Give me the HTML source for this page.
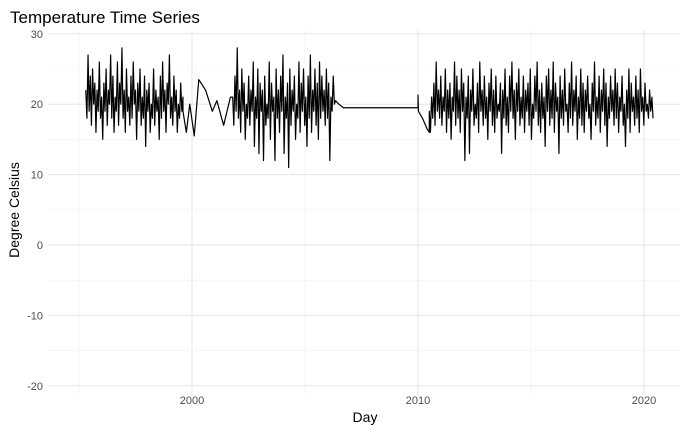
<!DOCTYPE html>
<html><head><meta charset="utf-8"><style>
html,body{margin:0;padding:0;background:#fff;}
svg{display:block;font-family:"Liberation Sans",sans-serif;}
</style></head><body>
<svg id="chart" width="689" height="432">
<text x="10" y="23" font-size="17" fill="#000">Temperature Time Series</text>
<g id="grid"></g>
<g id="axes"></g>
<g id="series"></g>
<text x="365" y="422" font-size="14" text-anchor="middle" fill="#000">Day</text>
<text transform="translate(19,210) rotate(-90)" font-size="14" text-anchor="middle" fill="#000">Degree Celsius</text>
</svg>
<script>
const yTicks=[30,20,10,0,-10,-20];
const yMinor=[25,15,5,-5,-15];
const xTicks=[2000,2010,2020];
const xMinor=[1995,2005,2015];
const segA=[22,18,27,19,24,17,25,20,23,16,22,19,26,18,21,15,23,19,25,17,22,20,27,18,24,16,21,19,26,17,23,20,28,18,22,16,25,19,21,17,24,18,26,20,22,15,23,19,25,17,21,18,24,14,22,19,23,16,20,18,25,17,22,19,21,15,24,18,26,19,22,16,23,20,27,18,21,17,24,19,22,16,20,18,23,19,21];
const segAStart=1995.3, segAEnd=1999.6;
const segBDates=[1999.6,1999.75,1999.9,2000.1,2000.3,2000.6,2000.9,2001.1,2001.4,2001.7];
const segBVals=[19,16,20,15.5,23.5,22,19,20.5,17,21];
const segC=[21,17,24,19,28,18,22,16,25,19,23,15,20,18,24,17,22,19,26,14,21,18,25,13,23,19,22,12,24,17,20,18,26,15,23,19,21,12,25,18,22,16,24,19,27,13,21,18,23,11,25,17,22,19,24,15,20,18,26,16,23,19,25,17,21,14,24,18,27,16,22,19,25,17,23,15,26,18,24,19,22,17,25,18,23,12,21,19,24,20];
const segCStart=2001.8, segCEnd=2006.3;
const segDDates=[2006.35,2006.5,2006.7,2010.0,2010.0,2010.02,2010.2,2010.4,2010.5];
const segDVals=[20.5,20,19.5,19.5,21.3,19,18,16.5,16];
const segE=[19,16,21,18,23,17,26,19,22,18,24,17,21,19,25,16,22,18,23,15,21,19,26,17,24,18,22,16,25,19,23,12,21,18,24,13,22,19,25,17,20,18,23,16,26,19,22,17,24,18,21,15,23,19,25,17,22,16,24,18,20,19,23,13,22,18,25,17,21,16,24,19,26,18,22,15,23,19,25,17,21,18,24,16,22,19,23,17,25,15,20,18,24,19,26,17,22,16,23,18,21,14,24,19,25,17,22,18,26,16,23,19,21,13,24,18,22,17,25,19,20,16,23,18,26,17,22,19,24,15,21,18,25,17,23,16,22,19,24,18,20,15,23,19,26,17,21,18,24,16,22,19,25,17,23,14,21,18,24,19,22,17,25,18,23,16,21,19,24,17,20,14,22,18,25,16,23,19,21,17,24,18,22,16,25,19,21,17,23,19,20,18,22,19,21,18];
const segEStart=2010.5, segEEnd=2020.4;

const NS="http://www.w3.org/2000/svg";
const L=48,R=680,T=30,B=396;
const X=y=>192+(y-2000)*22.6;
const Y=v=>245-v*7.04;
function mk(tag,attrs,parent){const e=document.createElementNS(NS,tag);for(const k in attrs)e.setAttribute(k,attrs[k]);parent.appendChild(e);return e;}
const grid=document.getElementById('grid'),axes=document.getElementById('axes'),series=document.getElementById('series');
yMinor.forEach(v=>{const l=mk('line',{x1:L,x2:R,y1:Y(v),y2:Y(v),stroke:'#f1f1f1','stroke-width':0.6},grid);

});
xMinor.forEach(v=>{const l=mk('line',{x1:X(v),x2:X(v),y1:T,y2:B,stroke:'#f1f1f1','stroke-width':0.6},grid);

});
yTicks.forEach(v=>{const l=mk('line',{x1:L,x2:R,y1:Y(v),y2:Y(v),stroke:'#e6e6e6','stroke-width':1},grid);


const t=mk('text',{x:43,y:Y(v)+4,'font-size':11,'text-anchor':'end',fill:'#4d4d4d'},axes);t.textContent=v;

});
xTicks.forEach(v=>{const l=mk('line',{x1:X(v),x2:X(v),y1:T,y2:B,stroke:'#e6e6e6','stroke-width':1},grid);


const t=mk('text',{x:X(v),y:404,'font-size':11,'text-anchor':'middle',fill:'#4d4d4d'},axes);t.textContent=v;

});
const pts=[];
function addSeg(vals,s,e){vals.forEach((v,i)=>pts.push([s+(e-s)*i/(vals.length-1),v]));}
addSeg(segA,segAStart,segAEnd);
segBDates.forEach((d,i)=>pts.push([d,segBVals[i]]));
addSeg(segC,segCStart,segCEnd);
segDDates.forEach((d,i)=>pts.push([d,segDVals[i]]));
addSeg(segE,segEStart,segEEnd);
const p=mk('polyline',{points:pts.map(q=>X(q[0]).toFixed(2)+','+Y(q[1]).toFixed(2)).join(' '),fill:'none',stroke:'#000','stroke-width':1.2,'stroke-linejoin':'round'},series);


</script>
</body></html>
